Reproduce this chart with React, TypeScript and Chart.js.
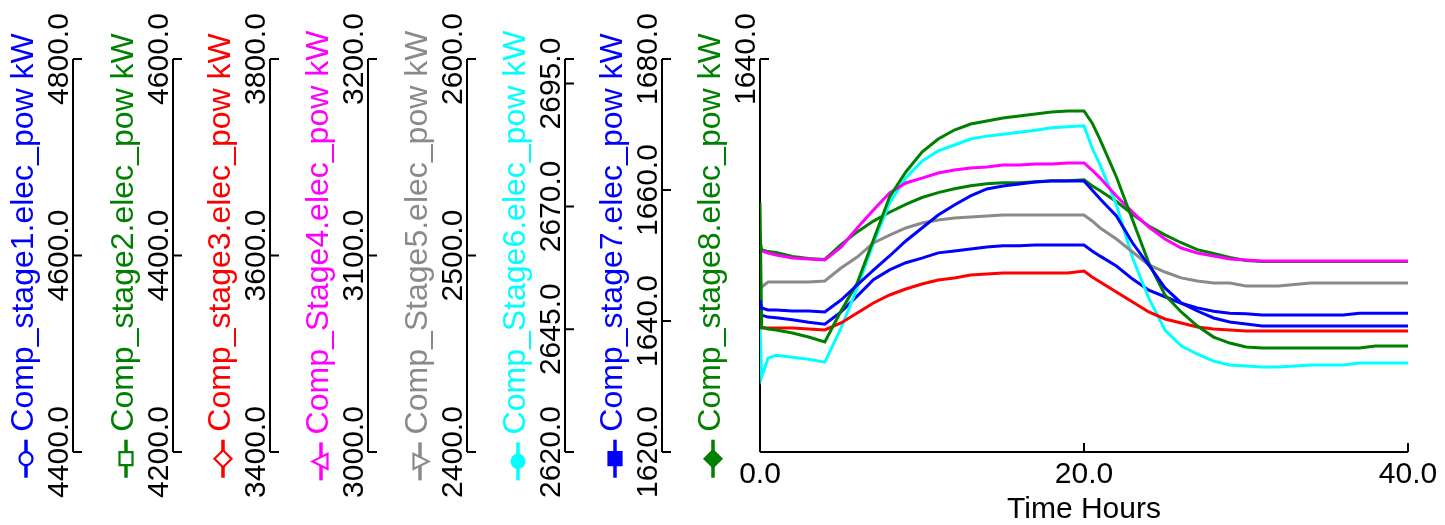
import { useEffect, useRef } from "react";
import { Chart, registerables } from "chart.js";

Chart.register(...registerables);

// Simulation time (hours) shared by every trace
const hours = [
  0, 0.1, 0.5, 1, 2, 3, 4, 5, 6, 7, 8, 9, 10, 11, 12, 13, 14, 15, 16, 17, 18, 19, 20,
  20.5, 21, 22, 23, 24, 25, 26, 27, 28, 29, 30, 31, 32, 34, 36, 37, 38, 40,
];

// Electrical power per compressor stage, kW
const stage1 = [
  4554.7, 4546.6, 4544.5, 4544.5, 4543.5, 4543.5, 4542.5, 4554.7, 4570.0, 4585.2, 4599.5,
  4614.8, 4628.0, 4641.2, 4651.4, 4660.6, 4667.7, 4670.7, 4672.8, 4674.8, 4675.8, 4675.8,
  4675.8, 4666.7, 4657.5, 4640.2, 4612.7, 4590.3, 4567.0, 4551.7, 4543.5, 4536.4, 4532.3,
  4530.3, 4528.2, 4528.2, 4528.2, 4528.2, 4528.2, 4528.2, 4528.2,
];
const stage2 = [
  4453.4, 4327.2, 4325.2, 4324.2, 4321.1, 4317.0, 4312.0, 4343.5, 4372.0, 4415.8, 4459.5,
  4485.0, 4505.3, 4518.6, 4527.7, 4533.8, 4536.9, 4539.9, 4542.0, 4544.0, 4546.1, 4547.1,
  4547.1, 4534.9, 4517.6, 4479.9, 4436.1, 4392.4, 4359.8, 4342.5, 4328.2, 4317.0, 4310.9,
  4306.9, 4305.9, 4305.9, 4305.9, 4305.9, 4305.9, 4307.9, 4307.9,
];
const stage3 = [
  3527.2, 3526.2, 3526.2, 3526.2, 3526.2, 3525.2, 3524.2, 3531.3, 3541.5, 3551.7, 3559.8,
  3565.9, 3571.0, 3575.1, 3577.1, 3580.2, 3581.2, 3582.2, 3582.2, 3582.2, 3582.2, 3582.2,
  3584.2, 3578.1, 3573.0, 3562.8, 3552.7, 3542.5, 3535.4, 3531.3, 3527.2, 3525.2, 3524.2,
  3523.2, 3523.2, 3523.2, 3523.2, 3523.2, 3523.2, 3523.2, 3523.2,
];
const stage4 = [
  3102.8, 3102.3, 3101.3, 3100.3, 3098.7, 3098.2, 3097.7, 3104.3, 3114.0, 3123.2, 3131.8,
  3136.9, 3139.4, 3142.0, 3143.5, 3144.5, 3145.0, 3146.1, 3146.1, 3146.6, 3146.6, 3147.1,
  3147.1, 3143.5, 3139.4, 3130.3, 3122.1, 3114.5, 3108.4, 3103.8, 3101.3, 3099.7, 3098.2,
  3097.7, 3097.2, 3097.2, 3097.2, 3097.2, 3097.2, 3097.2, 3097.2,
];
const stage5 = [
  2480.9, 2484.0, 2486.5, 2486.5, 2486.5, 2486.5, 2487.0, 2493.6, 2499.2, 2506.4, 2510.4,
  2514.0, 2516.5, 2518.1, 2519.1, 2519.6, 2520.1, 2520.6, 2520.6, 2520.6, 2520.6, 2520.6,
  2520.6, 2517.6, 2514.0, 2508.4, 2501.8, 2495.2, 2491.6, 2488.6, 2487.0, 2486.0, 2486.0,
  2484.5, 2484.5, 2484.5, 2486.0, 2486.0, 2486.0, 2486.0, 2486.0,
];
const stage6 = [
  2645.9, 2635.3, 2639.1, 2639.7, 2639.3, 2638.9, 2638.3, 2645.2, 2653.4, 2662.5, 2670.7,
  2675.8, 2679.2, 2681.3, 2682.5, 2683.7, 2684.3, 2684.7, 2685.1, 2685.5, 2686.0, 2686.2,
  2686.4, 2681.9, 2678.4, 2670.3, 2659.5, 2651.3, 2644.8, 2641.6, 2639.9, 2638.5, 2637.7,
  2637.5, 2637.3, 2637.3, 2637.7, 2637.7, 2638.1, 2638.1, 2638.1,
];
const stage7 = [
  1643.2, 1640.9, 1640.6, 1640.5, 1640.2, 1639.8, 1639.5, 1641.4, 1643.8, 1646.3, 1647.8,
  1648.9, 1649.6, 1650.4, 1650.7, 1651.0, 1651.3, 1651.5, 1651.5, 1651.6, 1651.6, 1651.6,
  1651.6, 1650.7, 1649.9, 1648.4, 1646.4, 1644.7, 1643.7, 1642.7, 1642.0, 1641.5, 1641.2,
  1641.1, 1640.9, 1640.9, 1640.9, 1640.9, 1641.2, 1641.2, 1641.2,
];
const stage8 = [
  1621.6, 1620.6, 1620.4, 1620.3, 1619.9, 1619.7, 1619.6, 1621.1, 1622.4, 1623.5, 1624.4,
  1625.2, 1625.9, 1626.4, 1626.8, 1627.1, 1627.3, 1627.4, 1627.4, 1627.5, 1627.6, 1627.6,
  1627.7, 1627.1, 1626.6, 1625.5, 1624.2, 1623.0, 1622.1, 1621.3, 1620.6, 1620.2, 1619.8,
  1619.5, 1619.4, 1619.4, 1619.4, 1619.4, 1619.4, 1619.4, 1619.4,
];

const seriesValues = [stage1, stage2, stage3, stage4, stage5, stage6, stage7, stage8];
const seriesNames = [
  "Comp_stage1.elec_pow kW",
  "Comp_stage2.elec_pow kW",
  "Comp_stage3.elec_pow kW",
  "Comp_Stage4.elec_pow kW",
  "Comp_Stage5.elec_pow kW",
  "Comp_Stage6.elec_pow kW",
  "Comp_stage7.elec_pow kW",
  "Comp_stage8.elec_pow kW",
];
const seriesColors = ["#0000ff", "#008000", "#ff0000", "#ff00ff", "#8a8a8a", "#00ffff", "#0000ff", "#008000"];
const seriesMarkers = [
  "circle", "square", "diamond", "triangle", "triangleDown", "circleFilled", "squareFilled", "diamondFilled",
];

// One value axis per stage: range, tick marks and labelled ticks
const axisMin = [4400, 4200, 3400, 3000, 2400, 2620, 1620, 1600];
const axisMax = [4800, 4600, 3800, 3200, 2600, 2700, 1680, 1640];
const axisTickMarks = [
  [4400, 4600, 4800],
  [4200, 4400, 4600],
  [3400, 3600, 3800],
  [3000, 3100, 3200],
  [2400, 2500, 2600],
  [2620, 2645, 2670, 2695, 2700],
  [1620, 1640, 1660, 1680],
  [1640],
];
const axisTickLabels = [
  [4400, 4600, 4800],
  [4200, 4400, 4600],
  [3400, 3600, 3800],
  [3000, 3100, 3200],
  [2400, 2500, 2600],
  [2620, 2645, 2670, 2695],
  [1620, 1640, 1660, 1680],
  [1640],
];

const timeTicks = [0, 20, 40];
const timeTitle = "Time Hours";

// Horizontal placement of the stacked value axes (the last one is the plot's left edge)
const AXIS_X = [73, 173, 270, 368, 467, 565, 662, 760];
const FONT = "'Liberation Sans', Arial, sans-serif";

function drawMarker(ctx: CanvasRenderingContext2D, kind: string, cx: number, cy: number, color: string) {
  ctx.save();
  ctx.strokeStyle = color;
  ctx.fillStyle = color;
  ctx.lineWidth = 2.2;
  const filled = kind.endsWith("Filled");
  ctx.beginPath();
  if (kind.startsWith("circle")) {
    ctx.arc(cx, cy, 6.5, 0, Math.PI * 2);
  } else if (kind.startsWith("square")) {
    ctx.rect(cx - 6.5, cy - 6.5, 13, 13);
  } else if (kind.startsWith("diamond")) {
    ctx.moveTo(cx, cy - 8.5);
    ctx.lineTo(cx + 8.5, cy);
    ctx.lineTo(cx, cy + 8.5);
    ctx.lineTo(cx - 8.5, cy);
    ctx.closePath();
  } else if (kind === "triangle") {
    ctx.moveTo(cx, cy - 8.5);
    ctx.lineTo(cx + 7.5, cy + 6.5);
    ctx.lineTo(cx - 7.5, cy + 6.5);
    ctx.closePath();
  } else if (kind === "triangleDown") {
    ctx.moveTo(cx, cy + 8.5);
    ctx.lineTo(cx + 7.5, cy - 6.5);
    ctx.lineTo(cx - 7.5, cy - 6.5);
    ctx.closePath();
  }
  if (filled) {
    ctx.fill();
  } else {
    ctx.fillStyle = "#ffffff";
    ctx.fill();
  }
  ctx.stroke();
  ctx.restore();
}

const axesPlugin = {
  id: "stackedAxes",
  beforeDatasetsDraw(chart: any) {
    const ctx: CanvasRenderingContext2D = chart.ctx;
    const area = chart.chartArea;
    ctx.save();
    ctx.strokeStyle = "#000000";
    ctx.fillStyle = "#000000";
    ctx.lineWidth = 2;

    for (let k = 0; k < AXIS_X.length; k++) {
      const sc = chart.scales["y" + k];
      const X = AXIS_X[k];
      const yTop = sc.getPixelForValue(axisMax[k]);
      const yBot = sc.getPixelForValue(axisMin[k]);

      // spine with end caps
      ctx.strokeStyle = "#000000";
      ctx.lineWidth = 2;
      ctx.beginPath();
      ctx.moveTo(X, yTop);
      ctx.lineTo(X, yBot);
      ctx.moveTo(X, yTop);
      ctx.lineTo(X + 9, yTop);
      if (k < AXIS_X.length - 1) {
        ctx.moveTo(X, yBot);
        ctx.lineTo(X + 9, yBot);
      }
      for (const v of axisTickMarks[k]) {
        const y = sc.getPixelForValue(v);
        ctx.moveTo(X, y);
        ctx.lineTo(X + 9, y);
      }
      ctx.stroke();

      // rotated tick labels
      ctx.font = "30px " + FONT;
      ctx.fillStyle = "#000000";
      ctx.textAlign = "center";
      ctx.textBaseline = "alphabetic";
      for (const v of axisTickLabels[k]) {
        const y = sc.getPixelForValue(v);
        ctx.save();
        ctx.translate(X - 5, y);
        ctx.rotate(-Math.PI / 2);
        ctx.fillText(v.toFixed(1), 0, 0);
        ctx.restore();
      }

      // rotated title with legend marker
      ctx.save();
      const mid = (yTop + yBot) / 2;
      ctx.translate(X - 40, mid);
      ctx.rotate(-Math.PI / 2);
      ctx.font = "32px " + FONT;
      const tw = ctx.measureText(seriesNames[k]).width;
      const total = 38 + 8 + tw;
      const start = -total / 2;
      const color = seriesColors[k];
      ctx.strokeStyle = color;
      ctx.lineWidth = 3.5;
      ctx.beginPath();
      ctx.moveTo(start, -7);
      ctx.lineTo(start + 38, -7);
      ctx.stroke();
      drawMarker(ctx, seriesMarkers[k], start + 19, -7, color);
      ctx.fillStyle = color;
      ctx.textAlign = "left";
      ctx.fillText(seriesNames[k], start + 46, 0);
      ctx.restore();
    }

    // time axis
    const xs = chart.scales.x;
    ctx.strokeStyle = "#000000";
    ctx.lineWidth = 2;
    ctx.beginPath();
    ctx.moveTo(area.left, area.bottom);
    ctx.lineTo(xs.getPixelForValue(timeTicks[timeTicks.length - 1]), area.bottom);
    for (const t of timeTicks) {
      if (t === timeTicks[0]) continue;
      const x = xs.getPixelForValue(t);
      ctx.moveTo(x, area.bottom);
      ctx.lineTo(x, area.bottom - 9);
    }
    ctx.stroke();
    ctx.fillStyle = "#000000";
    ctx.font = "30px " + FONT;
    ctx.textAlign = "center";
    ctx.textBaseline = "alphabetic";
    for (const t of timeTicks) {
      ctx.fillText(t.toFixed(1), xs.getPixelForValue(t), area.bottom + 31);
    }
    ctx.fillText(timeTitle, (area.left + area.right) / 2, area.bottom + 66);
    ctx.restore();
  },
};

export default function App() {
  const canvasRef = useRef<HTMLCanvasElement>(null);

  useEffect(() => {
    const canvas = canvasRef.current;
    if (!canvas) return;

    const scales: any = {
      x: { type: "linear", min: 0, max: 40, display: false },
    };
    axisMin.forEach((mn, k) => {
      scales["y" + k] = { type: "linear", min: mn, max: axisMax[k], display: false };
    });

    const chart = new Chart(canvas, {
      type: "line",
      data: {
        datasets: seriesValues.map((vals, k) => ({
          label: seriesNames[k],
          data: hours.map((h, i) => ({ x: h, y: vals[i] })),
          yAxisID: "y" + k,
          borderColor: seriesColors[k],
          backgroundColor: seriesColors[k],
          borderWidth: 3,
          pointRadius: 0,
          tension: 0,
          fill: false,
        })),
      },
      options: {
        responsive: false,
        animation: false,
        devicePixelRatio: 1,
        layout: { padding: { left: 760, top: 59, right: 37, bottom: 73 } },
        scales,
        plugins: {
          legend: { display: false },
          tooltip: { enabled: false },
        },
      },
      plugins: [axesPlugin],
    });

    return () => chart.destroy();
  }, []);

  return (
    <div style={{ position: "fixed", left: 0, top: 0, width: 1445, height: 525, background: "#ffffff" }}>
      <canvas ref={canvasRef} width={1445} height={525} style={{ display: "block", width: 1445, height: 525 }} />
    </div>
  );
}
